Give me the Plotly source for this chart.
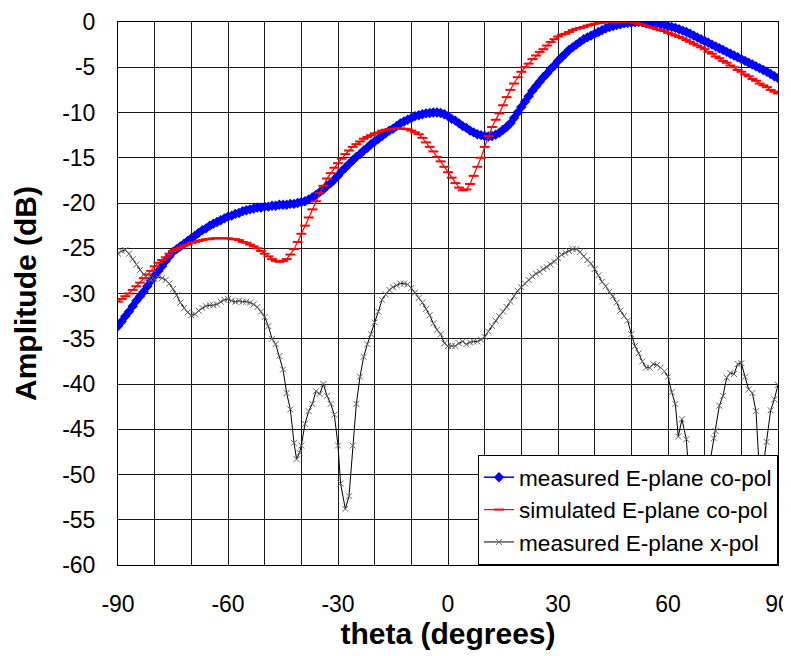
import plotly.graph_objects as go

# ---- data ----
theta_co = list(range(-90, 91))

measured_copol = [
    -33.6, -33.1, -32.5, -32.0, -31.4, -30.8, -30.3, -29.8, -29.2, -28.6,
    -28.0, -27.5, -27.0, -26.4, -25.9, -25.4, -25.1, -24.8, -24.5, -24.2,
    -23.9, -23.6, -23.3, -23.0, -22.8, -22.5, -22.3, -22.1, -21.9, -21.7,
    -21.5, -21.4, -21.2, -21.1, -20.9, -20.8, -20.7, -20.6, -20.5, -20.5,
    -20.4, -20.4, -20.3, -20.3, -20.2, -20.2, -20.2, -20.1, -20.1, -20.0,
    -19.9, -19.8, -19.6, -19.4, -19.1, -18.8, -18.5, -18.1, -17.8, -17.4,
    -17.0, -16.5, -16.1, -15.7, -15.3, -14.9, -14.6, -14.2, -13.9, -13.5,
    -13.2, -12.9, -12.6, -12.3, -12.0, -11.8, -11.5, -11.2, -11.0, -10.8,
    -10.6, -10.4, -10.3, -10.2, -10.1, -10.05, -10.0, -10.0, -10.05, -10.2,
    -10.4, -10.7, -10.9, -11.2, -11.5, -11.7, -12.0, -12.2, -12.4, -12.5,
    -12.6, -12.65, -12.6, -12.45, -12.25, -11.9, -11.6, -11.2, -10.6, -10.0,
    -9.4, -8.8, -8.2, -7.6, -7.1, -6.6, -6.1, -5.7, -5.2, -4.8,
    -4.3, -3.9, -3.5, -3.1, -2.8, -2.5, -2.2, -1.9, -1.7, -1.5,
    -1.3, -1.1, -0.9, -0.7, -0.55, -0.45, -0.35, -0.25, -0.15, -0.1,
    -0.05, 0.0, 0.0, 0.0, 0.0, -0.05, -0.1, -0.15, -0.25, -0.35,
    -0.45, -0.55, -0.65, -0.8, -0.95, -1.1, -1.3, -1.5, -1.7, -1.9,
    -2.1, -2.3, -2.5, -2.7, -2.9, -3.1, -3.3, -3.5, -3.7, -3.9,
    -4.1, -4.3, -4.5, -4.7, -4.9, -5.1, -5.3, -5.5, -5.75, -6.0,
    -6.2,
]

simulated_copol = [
    -30.9, -30.6, -30.3, -30.0, -29.6, -29.2, -28.8, -28.3, -27.9, -27.5,
    -27.0, -26.6, -26.3, -26.0, -25.6, -25.3, -25.1, -24.9, -24.7, -24.6,
    -24.4, -24.3, -24.2, -24.1, -24.0, -24.0, -23.9, -23.9, -23.9, -23.9,
    -23.9, -24.0, -24.0, -24.1, -24.3, -24.4, -24.6, -24.8, -25.0, -25.3,
    -25.6, -25.9, -26.2, -26.4, -26.5, -26.4, -26.2, -25.7, -25.1, -24.3,
    -23.4, -22.5, -21.6, -20.7, -19.8, -18.9, -18.1, -17.3, -16.7, -16.1,
    -15.6, -15.1, -14.6, -14.2, -13.8, -13.5, -13.2, -12.9, -12.7, -12.5,
    -12.3, -12.2, -12.0, -11.9, -11.85, -11.8, -11.75, -11.75, -11.8, -11.85,
    -12.0, -12.2, -12.4, -12.8, -13.3, -13.8, -14.3, -14.9, -15.4, -16.0,
    -16.6, -17.2, -17.8, -18.3, -18.6, -18.5, -17.9, -17.0, -16.0, -15.0,
    -13.8, -12.6, -11.6, -10.8, -10.1, -9.2, -8.3, -7.5, -6.8, -6.1,
    -5.5, -5.0, -4.6, -4.1, -3.7, -3.3, -3.0, -2.6, -2.2, -1.9,
    -1.6, -1.4, -1.3, -1.1, -0.9, -0.75, -0.65, -0.55, -0.4, -0.3,
    -0.2, -0.1, -0.08, -0.05, 0.0, 0.0, 0.0, 0.0, 0.0, 0.0,
    0.0, -0.1, -0.2, -0.3, -0.45, -0.55, -0.65, -0.8, -0.9, -1.0,
    -1.2, -1.35, -1.5, -1.65, -1.8, -2.0, -2.2, -2.4, -2.6, -2.8,
    -3.0, -3.3, -3.5, -3.8, -4.0, -4.3, -4.5, -4.8, -5.0, -5.3,
    -5.5, -5.8, -6.0, -6.3, -6.5, -6.8, -7.0, -7.2, -7.5, -7.7,
    -7.9,
]

theta_xpol = [
    -90, -89, -88, -87, -86, -85, -84, -83, -82, -81,
    -80, -79, -78, -77, -76, -75, -74, -73, -72, -71,
    -70, -69, -68, -67, -66, -65, -64, -63, -62, -61,
    -60, -59, -58, -57, -56, -55, -54, -53, -52, -51,
    -50, -49, -48, -47, -46, -45, -44, -43, -42, -41.3,
    -40.5, -40, -39, -38, -37, -36, -35, -34, -33, -32,
    -31, -30, -29.3, -28, -27, -26, -25, -24, -23, -22,
    -21, -20, -19, -18, -17, -16, -15, -14, -13, -12,
    -11, -10, -9, -8, -7, -6, -5, -4, -3, -2,
    -1, 0, 1, 2, 3, 4, 5, 6, 7, 8,
    9, 10, 11, 12, 13, 14, 15, 16, 17, 18,
    19, 20, 21, 22, 23, 24, 25, 26, 27, 28,
    29, 30, 31, 32, 33, 34, 35, 36, 37, 38,
    39, 40, 41, 42, 43, 44, 45, 46, 47, 48,
    49, 50, 51, 52, 53, 54, 55, 56, 57, 58,
    59, 60, 61, 62, 62.8, 63.8, 65, 65.5, 66.5, 67.5,
    68.5, 69.3, 70, 71.5, 72.5, 73, 74, 75, 76, 77,
    78, 79, 80, 81, 82, 83, 84, 84.8, 85.4, 86,
    86.9, 88, 89, 90,
]

measured_xpol = [
    -25.6, -25.3, -25.2, -25.6, -26.2, -26.8, -27.4, -27.9, -28.3, -28.5,
    -28.4, -28.2, -28.3, -28.5, -28.9, -29.5, -30.2, -31.0, -31.6, -32.1,
    -32.4, -32.3, -31.9, -31.6, -31.4, -31.3, -31.3, -31.2, -30.9, -30.7,
    -30.6, -30.8, -30.9, -30.8, -30.9, -30.9, -31.0, -31.2, -31.5, -32.0,
    -32.6, -33.6, -35.0, -35.6, -36.9, -38.4, -41.0, -42.8, -46.5, -48.3,
    -47.6, -46.8, -44.4, -43.0, -42.2, -40.8, -41.1, -40.0, -41.3, -42.2,
    -43.4, -46.8, -51.0, -53.8, -52.4, -46.8, -42.2, -39.2, -37.0, -35.6,
    -34.5, -33.2, -32.0, -30.7, -30.1, -29.6, -29.3, -29.1, -28.9, -28.9,
    -29.0, -29.4, -29.9, -30.5, -31.0, -31.7, -32.4, -33.3, -34.0, -34.5,
    -35.5, -35.8, -35.8, -35.8, -35.5, -35.3, -35.6, -35.4, -35.3, -35.3,
    -35.1, -34.8, -34.2, -33.6, -33.0, -32.5, -32.0, -31.5, -30.9, -30.3,
    -29.7, -29.3, -28.9, -28.5, -28.1, -27.8, -27.6, -27.3, -27.1, -26.8,
    -26.5, -26.1, -25.7, -25.5, -25.3, -25.1, -25.1, -25.4, -25.9, -26.3,
    -26.7, -27.3, -28.0, -28.7, -29.2, -29.8, -30.3, -31.0, -31.9, -32.5,
    -33.0, -34.5, -35.8, -36.6, -37.5, -38.2, -38.2, -37.8, -37.9, -38.2,
    -38.6, -39.2, -40.9, -42.2, -45.8, -43.9, -46.1, -48.9, -53.5, -58.0,
    -61.0, -55.0, -49.5, -48.5, -46.0, -45.2, -42.4, -41.3, -39.3, -38.8,
    -38.9, -37.8, -37.7, -39.2, -40.6, -41.0, -43.0, -48.8, -50.5, -49.0,
    -46.4, -42.9, -41.7, -40.1,
]

series_names = [
    "measured E-plane co-pol",
    "simulated E-plane co-pol",
    "measured E-plane x-pol",
]
x_ticks = [-90, -60, -30, 0, 30, 60, 90]
y_ticks = list(range(-60, 1, 5))

FONT = "Liberation Sans, Arial, sans-serif"

fig = go.Figure()
fig.add_trace(go.Scatter(
    x=theta_co, y=measured_copol, name=series_names[0], mode="lines+markers",
    line=dict(color="#0000FF", width=1.5),
    marker=dict(symbol="diamond", size=8, color="#0000FF",
                line=dict(width=0)),
))
fig.add_trace(go.Scatter(
    x=theta_co, y=simulated_copol, name=series_names[1], mode="lines+markers",
    line=dict(color="#FF0000", width=1.2),
    marker=dict(symbol="line-ew", size=7, color="#FF0000",
                line=dict(width=2, color="#FF0000")),
))
fig.add_trace(go.Scatter(
    x=theta_xpol, y=measured_xpol, name=series_names[2], mode="lines+markers",
    line=dict(color="#000000", width=1),
    marker=dict(symbol="x-thin", size=6, color="#666666",
                line=dict(width=1, color="#666666")),
))

grid_col = "#1a1a1a"
fig.update_xaxes(
    range=[-90, 90], tickvals=x_ticks, ticktext=[str(v) for v in x_ticks],
    showgrid=True, gridcolor=grid_col, gridwidth=1,
    minor=dict(dtick=10, showgrid=True, gridcolor=grid_col, gridwidth=1),
    showline=True, linecolor="#000", linewidth=1, mirror=True,
    zeroline=False, ticks="outside", ticklen=18, tickcolor="rgba(0,0,0,0)",
    ticklabeloverflow="allow",
    tickfont=dict(family=FONT, size=23, color="#000"),
    title=dict(text="<b>theta (degrees)</b>", standoff=0,
               font=dict(family=FONT, size=30, color="#000")),
)
fig.update_yaxes(
    range=[-60, 0], tickvals=y_ticks, ticktext=[str(v) for v in y_ticks],
    showgrid=True, gridcolor=grid_col, gridwidth=1,
    showline=True, linecolor="#000", linewidth=1, mirror=True,
    zeroline=False, ticks="outside", ticklen=17, tickcolor="rgba(0,0,0,0)",
    ticklabeloverflow="allow",
    tickfont=dict(family=FONT, size=23, color="#000"),
    title=dict(text="<b>Amplitude (dB)</b>", standoff=16,
               font=dict(family=FONT, size=30, color="#000")),
)

# page body adds an 8px offset; the figure is sized to compensate
fig.update_layout(
    width=783, height=648,
    margin=dict(l=110, r=13, t=14, b=91, autoexpand=False),
    paper_bgcolor="white", plot_bgcolor="white",
    font=dict(family=FONT, color="#000"),
    showlegend=True,
    legend=dict(
        x=1, y=0, xanchor="right", yanchor="bottom",
        bgcolor="white", bordercolor="#000", borderwidth=1,
        font=dict(family=FONT, size=22.6, color="#000"),
        tracegroupgap=0, itemwidth=30,
    ),
)

fig.write_html("out.html")
